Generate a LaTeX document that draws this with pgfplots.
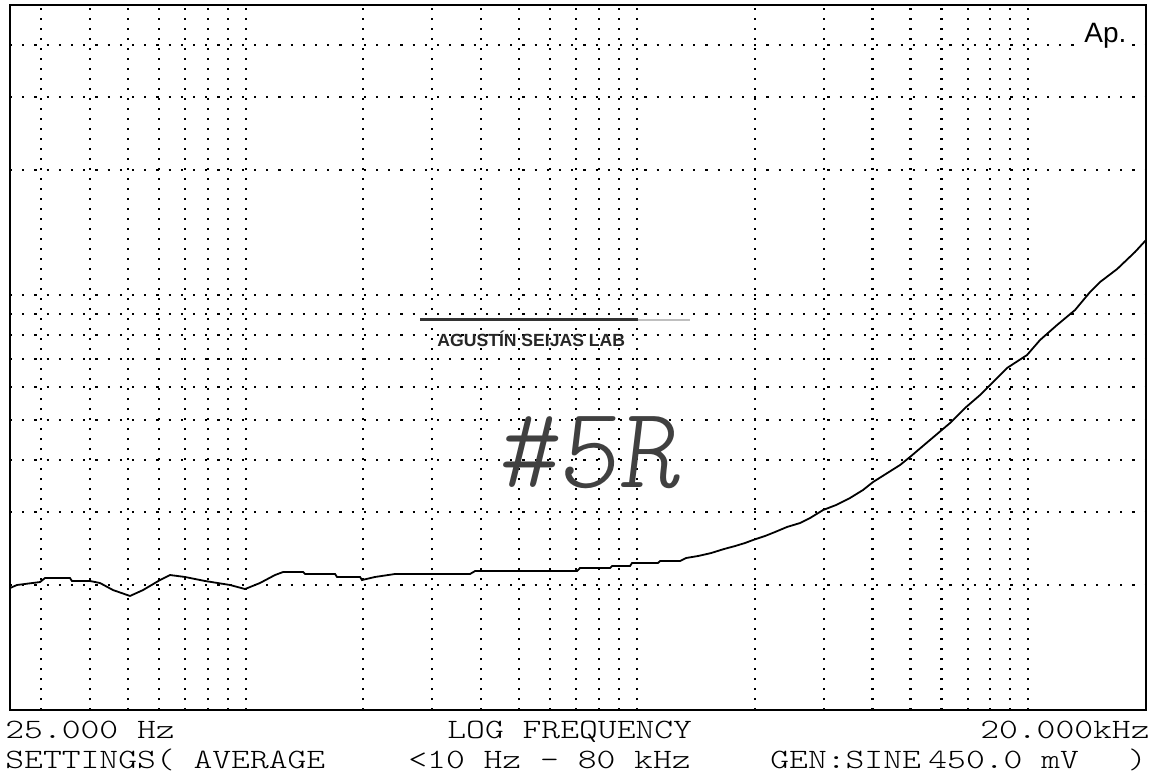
\documentclass[border=0pt]{standalone}
\usepackage{pgfplots}
\pgfplotsset{compat=1.18}
\usepackage{fontspec}
\setmainfont{Liberation Serif}
\newfontfamily\courier{lmmonolt10-regular}[Extension=.otf, FakeStretch=1.28]
\newfontfamily\hand{lmmonolt10-regular}[Extension=.otf, FakeSlant=0.12]
\newfontfamily\sans{Liberation Sans}

\begin{document}
\begin{tikzpicture}
\path[use as bounding box] (0pt,0pt) rectangle (582.5pt,388.5pt);
\begin{axis}[
    at={(5pt,33.5pt)}, anchor=south west,
    scale only axis,
    width=568pt, height=352.5pt,
    xmode=log, ymode=log,
    xmin=25, xmax=20000,
    ymin=1, ymax=50,
    xtick={100,1000,10000},
    minor xtick={30,40,50,60,70,80,90,200,300,400,500,600,700,800,900,2000,3000,4000,5000,6000,7000,8000,9000},
    ytick={10},
    minor ytick={2,3,4,5,6,7,8,9,20,30,40},
    xticklabels={}, yticklabels={},
    major tick length=0pt, minor tick length=0pt,
    grid=both,
    axis line style={line width=1.2pt},
    x grid style={black, line width=1.1pt, dash pattern=on 1.1pt off 3.9pt},
    y grid style={black, line width=1.1pt, dash pattern=on 1.1pt off 5pt},
]
% measured curve
\addplot[black, line width=0.9pt] coordinates {
(25,1.968) (26.05,2.001) (29.83,2.034) (30.72,2.080) (35.58,2.080) (36.00,2.046)
(40.04,2.046) (42.46,2.023) (45.84,1.946) (50.65,1.883) (54.69,1.946) (60.43,2.057)
(64.09,2.115) (70.03,2.092) (78.77,2.046) (91.25,2.001) (99.66,1.957) (108.8,2.023)
(118.9,2.115) (124.6,2.150) (140.3,2.150) (141.9,2.127) (169.3,2.127) (171.3,2.092)
(196.1,2.092) (198.4,2.057) (214.1,2.092) (240.9,2.127) (374.6,2.127) (385.8,2.162)
(703.0,2.162) (715.5,2.199) (853.8,2.199) (863.9,2.223) (960.4,2.223) (971.8,2.261)
(1132,2.261) (1146,2.286) (1289,2.286) (1335,2.324) (1433,2.350) (1547,2.389)
(1669,2.443) (1782,2.484) (1889,2.526) (1980,2.568) (2125,2.626) (2254,2.685)
(2419,2.761) (2611,2.822) (2769,2.901) (2990,3.033) (3228,3.119) (3505,3.243)
(3783,3.390) (4012,3.543) (4705,3.895) (4988,4.072) (5610,4.474) (6312,4.915)
(6895,5.343) (7531,5.741) (8828,6.671) (9930,7.170) (10720,7.792) (11850,8.469)
(13170,9.202) (14390,10.17) (15260,10.75) (16870,11.55) (18750,12.70) (20000,13.57)
};
\end{axis}

% logo
\node[anchor=base west, inner sep=1pt, fill=white] at (541pt,367pt) {\sans\fontsize{14}{16}\selectfont Ap.};

% stamp
\draw[black!80, line width=1.5pt] (210pt,228.5pt) -- (319pt,228.5pt);
\draw[black!25, line width=1pt] (319pt,228.5pt) -- (345pt,228.5pt);
\node[anchor=base west, inner sep=0pt, text=black!85] at (218.5pt,215pt)
  {\sans\bfseries\fontsize{8.8}{10}\selectfont AGUSTÍN SEIJAS LAB};

% handwriting
\node[anchor=base west, inner sep=0pt, text=black!75] at (248pt,145pt)
  {\hand\fontsize{58}{60}\selectfont \#5R};

% footer
\begin{scope}[every node/.style={inner sep=0pt, font=\courier\fontsize{14}{16}\selectfont}]
\node[anchor=base west] at (2.5pt,19.5pt) {25.000 Hz};
\node[anchor=base west] at (223.5pt,19.5pt) {LOG FREQUENCY};
\node[anchor=base east] at (575pt,19.5pt) {20.000kHz};
\node[anchor=base west] at (2.5pt,4.5pt) {SETTINGS( AVERAGE};
\node[anchor=base west] at (204pt,4.5pt) {<10 Hz - 80 kHz};
\node[anchor=base west] at (385pt,4.5pt) {GEN:SINE};
\node[anchor=base west] at (464pt,4.5pt) {450.0 mV};
\node[anchor=base east] at (573.5pt,4.5pt) {)};
\end{scope}
\end{tikzpicture}
\end{document}
